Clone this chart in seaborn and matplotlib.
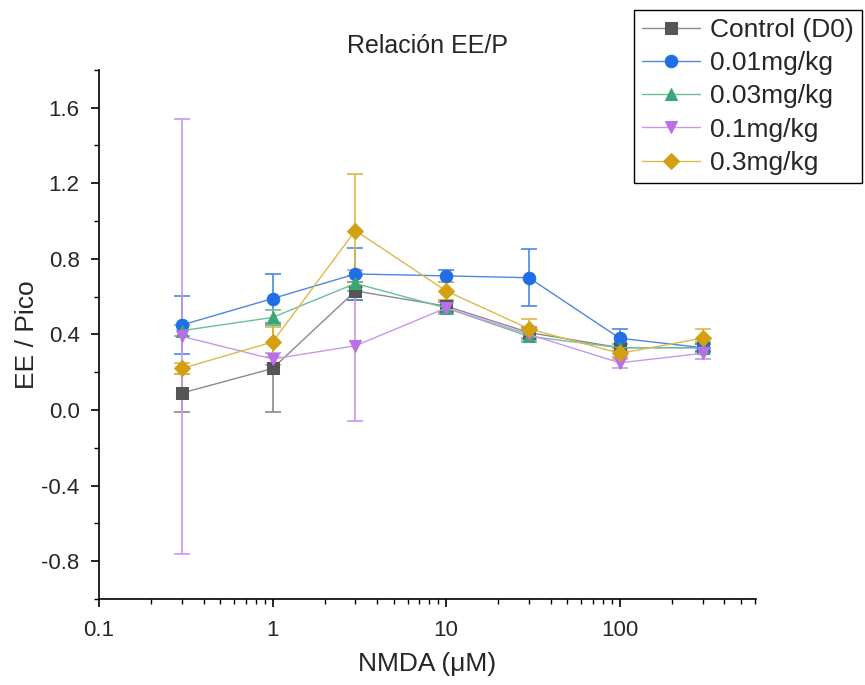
import numpy as np
import pandas as pd
import matplotlib
matplotlib.use("Agg")
import matplotlib.pyplot as plt
import seaborn as sns

# NMDA concentrations (uM)
nmda = [0.3, 1, 3, 10, 30, 100, 300]

groups = ['Control (D0)', '0.01mg/kg', '0.03mg/kg', '0.1mg/kg', '0.3mg/kg']

# mean EE / Pico per group
control_mean = [0.09, 0.22, 0.63, 0.55, 0.41, 0.33, 0.33]
d001_mean = [0.45, 0.59, 0.72, 0.71, 0.70, 0.38, 0.33]
d003_mean = [0.42, 0.49, 0.67, 0.54, 0.39, 0.33, 0.33]
d01_mean = [0.39, 0.27, 0.34, 0.54, 0.40, 0.25, 0.30]
d03_mean = [0.22, 0.36, 0.95, 0.63, 0.43, 0.30, 0.38]

# error bars (SEM)
control_err = [0.10, 0.23, 0.05, 0.03, 0.03, 0.02, 0.02]
d001_err = [0.155, 0.13, 0.14, 0.03, 0.15, 0.05, 0.02]
d003_err = [0.03, 0.04, 0.04, 0.03, 0.03, 0.02, 0.03]
d01_err = [1.15, 0.03, 0.40, 0.03, 0.03, 0.03, 0.03]
d03_err = [0.03, 0.08, 0.30, 0.05, 0.05, 0.03, 0.05]

means = [control_mean, d001_mean, d003_mean, d01_mean, d03_mean]
errs = [control_err, d001_err, d003_err, d01_err, d03_err]

colors = ['#555555', '#1f6ee6', '#3aa874', '#b86fe8', '#d4a012']
line_colors = ['#8a8a8a', '#4f86e0', '#6cbf95', '#c996ee', '#ddb84a']
markers = ['s', 'o', '^', 'v', 'D']
msizes = [8, 9, 9, 9, 8]

df = pd.DataFrame({
    'NMDA': np.tile(nmda, len(groups)),
    'ratio': np.concatenate(means),
    'err': np.concatenate(errs),
    'group': np.repeat(groups, len(nmda)),
})

sns.set_style("ticks")
plt.rcParams['font.family'] = ['Liberation Sans', 'DejaVu Sans']

fig = plt.figure(figsize=(8.65, 6.85), dpi=100)
ax = fig.add_axes([0.1145, 0.1255, 0.874 - 0.1145, 0.898 - 0.1255])

for i, g in enumerate(groups):
    sub = df[df['group'] == g]
    ax.errorbar(sub['NMDA'], sub['ratio'], yerr=sub['err'], fmt='none',
                ecolor=line_colors[i], elinewidth=1.2, capsize=6, capthick=1.2, zorder=2)
    sns.lineplot(data=sub, x='NMDA', y='ratio', ax=ax, color=line_colors[i],
                 linewidth=1.0, marker=markers[i], markersize=msizes[i],
                 markerfacecolor=colors[i], markeredgecolor=colors[i],
                 label=g, zorder=3, errorbar=None)

ax.set_xscale('log')
ax.set_xlim(0.1, 610)
ax.set_ylim(-1.0, 1.8)
ax.set_yticks([-0.8, -0.4, 0.0, 0.4, 0.8, 1.2, 1.6])
ax.set_yticks(np.arange(-1.0, 1.81, 0.2), minor=True)
ax.yaxis.set_major_formatter(matplotlib.ticker.FormatStrFormatter('%.1f'))
ax.set_xticks([0.1, 1, 10, 100])
ax.set_xticklabels(['0.1', '1', '10', '100'])
ax.tick_params(axis='both', which='major', labelsize=16, length=6, width=1.2, direction='out', color='black')
ax.tick_params(axis='x', which='major', pad=9)
ax.tick_params(axis='y', which='major', pad=8)
ax.tick_params(axis='both', which='minor', length=3.5, width=1.0, color='black')
for s in ['left', 'bottom']:
    ax.spines[s].set_linewidth(1.2)
    ax.spines[s].set_color('black')
sns.despine(ax=ax)

ax.set_xlabel('NMDA (\u03bcM)', fontsize=19, labelpad=8)
ax.set_ylabel('EE / Pico', fontsize=19, labelpad=2)
ax.set_title('Relación EE/P', fontsize=18, pad=12)

leg = ax.legend(loc='upper right', bbox_to_anchor=(862 / 865, 1 - 10 / 685),
                bbox_transform=fig.transFigure, borderaxespad=0, fontsize=19,
                frameon=True, fancybox=False, edgecolor='black', handlelength=2.2,
                labelspacing=0.35, borderpad=0.3, handletextpad=0.4, framealpha=1)
leg.get_frame().set_linewidth(1.0)

fig.savefig('out.png', dpi=100)
